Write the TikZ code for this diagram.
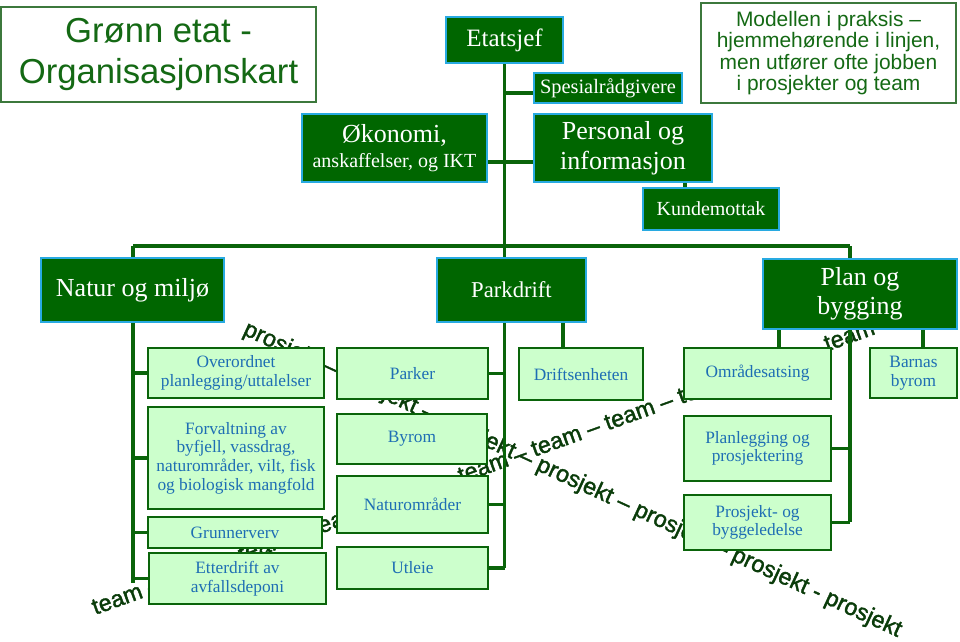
\documentclass[tikz,border=0pt]{standalone}
\usepackage{fontspec}
\setmainfont{Liberation Serif}
\setsansfont{Liberation Sans}
\newfontfamily\diagfont[FakeBold=1.6]{Liberation Sans}
\usetikzlibrary{calc}
\definecolor{dg}{RGB}{0,102,0}
\definecolor{cy}{RGB}{40,170,225}
\definecolor{lg}{RGB}{204,255,204}
\definecolor{lgb}{RGB}{10,100,10}
\definecolor{bl}{RGB}{30,110,180}
\definecolor{tg}{RGB}{20,105,20}
\definecolor{tbord}{RGB}{60,120,60}
\definecolor{lc}{RGB}{10,100,10}
\definecolor{dt}{RGB}{10,60,10}
\pgfdeclarelayer{txt}
\pgfdeclarelayer{lines}
\pgfsetlayers{txt,lines,main}
\newcommand\bxnode[7]{\node[#1,minimum width={(#4-#2)*0.75pt},minimum height={(#5-#3)*0.75pt}] (#6) at ({(#2+#4)/2},{(#3+#5)/2}) {#7};}
\tikzset{
  dbox/.style={draw=cy, fill=dg, line width=1.9pt, text=white, inner sep=0pt, align=center},
  lbox/.style={draw=lgb, fill=lg, line width=2.2pt, text=bl, inner sep=0pt, align=center, font=\fontsize{13pt}{14pt}\selectfont},
  wbox/.style={draw=tbord, fill=white, line width=1.1pt, text=tg, inner sep=0pt, align=center},
  conn/.style={draw=lc, line width=2.3pt},
  diag/.style={text=dt, inner sep=0pt, font=\diagfont\fontsize{17.5pt}{20pt}\selectfont}
}
\begin{document}
\begin{tikzpicture}[x=0.75pt,y=-0.75pt]
\useasboundingbox (0,0) rectangle (960,642);
% boxes
\bxnode{wbox,font=\sffamily\fontsize{26pt}{30.75pt}\selectfont}{1}{7}{316}{102}{title}{Grønn etat -\\Organisasjonskart}
\bxnode{wbox,font=\sffamily\fontsize{15.7pt}{16.1pt}\selectfont}{701}{3}{956}{103}{modell}{Modellen i praksis –\\hjemmehørende i linjen,\\men utfører ofte jobben\\i prosjekter og team}
\bxnode{dbox,font=\fontsize{18.75pt}{22pt}\selectfont}{446}{17}{563}{63}{etatsjef}{Etatsjef}
\bxnode{dbox,font=\fontsize{15.3pt}{18pt}\selectfont}{534}{73}{682}{103}{spesial}{Spesialrådgivere}
\bxnode{dbox,font=\fontsize{19.5pt}{18.75pt}\selectfont}{302}{114}{487}{182}{okonomi}{Økonomi,\\{\fontsize{15pt}{18.75pt}\selectfont anskaffelser, og IKT}}
\bxnode{dbox,font=\fontsize{19.5pt}{22.5pt}\selectfont}{534}{114}{712}{182}{personal}{Personal og\\informasjon}
\bxnode{dbox,font=\fontsize{15pt}{18pt}\selectfont}{643}{188}{779}{230}{kunde}{Kundemottak}
\bxnode{dbox,font=\fontsize{19.5pt}{22pt}\selectfont}{41}{258}{224}{322}{natur}{Natur og miljø}
\bxnode{dbox,font=\fontsize{17pt}{20pt}\selectfont}{437}{258}{586}{322}{parkdrift}{Parkdrift}
\bxnode{dbox,font=\fontsize{19.5pt}{22pt}\selectfont}{763}{259}{957}{329}{plan}{Plan og\\bygging}
\bxnode{lbox}{148}{348}{324}{398}{overordnet}{Overordnet\\planlegging/uttalelser}
\bxnode{lbox}{148}{407}{324}{509}{forvaltning}{Forvaltning av\\byfjell, vassdrag,\\naturområder, vilt, fisk\\og biologisk mangfold}
\bxnode{lbox}{148}{517}{322}{548}{grunn}{Grunnerverv}
\bxnode{lbox}{149}{553}{326}{604}{etter}{Etterdrift av\\avfallsdeponi}
\bxnode{lbox}{337}{348}{488}{399}{parker}{Parker}
\bxnode{lbox}{337}{414}{487}{464}{byrom}{Byrom}
\bxnode{lbox}{337}{476}{488}{533}{naturomr}{Naturområder}
\bxnode{lbox}{337}{547}{488}{589}{utleie}{Utleie}
\bxnode{lbox}{519}{348}{643}{400}{drift}{Driftsenheten}
\bxnode{lbox}{684}{348}{831}{399}{omr}{Områdesatsing}
\bxnode{lbox}{870}{348}{957}{398}{barnas}{Barnas\\byrom}
\bxnode{lbox}{684}{416}{831}{481}{planl}{Planlegging og\\prosjektering}
\bxnode{lbox}{684}{495}{831}{550}{prosj}{Prosjekt- og\\byggeledelse}
% diagonal texts
\begin{pgfonlayer}{txt}
\node[diag, rotate=19.8] (teamtxt) at (483.3,467.4) {team – team – team – team – team – team – team – team – team – team – team};
\node[diag, rotate=-24.8] (prosjtxt) at (572.5,480.3) {prosjekt – prosjekt – prosjekt – prosjekt – prosjekt – prosjekt - prosjekt};
\end{pgfonlayer}
% connectors
\coordinate (barL) at (133,246);
\coordinate (barR) at (850,246);
\coordinate (nmEnd) at (133,583);
\coordinate (pdEnd) at (505,568);
\coordinate (pbEnd) at (850,522);
\coordinate (spy) at (0,93);
\coordinate (oky) at (0,162);
\coordinate (kx) at (685,0);
\coordinate (dx) at (563,0);
\coordinate (ox) at (779,0);
\coordinate (bx) at (923,0);
\begin{pgfonlayer}{lines}
\draw[conn] (etatsjef.south) -- (etatsjef.south |- pdEnd);
\draw[conn] (barL) -- (barR);
\draw[conn] (barL) -- (nmEnd);
\draw[conn] (barR) -- (pbEnd);
\draw[conn] (spesial.west |- spy) -- (etatsjef.south |- spy);
\draw[conn] (okonomi.east |- oky) -- (personal.west |- oky);
\draw[conn] (personal.south -| kx) -- (kunde.north -| kx);
\draw[conn] (overordnet.west) -- (overordnet.west -| barL);
\draw[conn] (forvaltning.west) -- (forvaltning.west -| barL);
\draw[conn] (grunn.west) -- (grunn.west -| barL);
\draw[conn] (etter.west) -- (etter.west -| barL);
\draw[conn] (parker.east) -- (parker.east -| pdEnd);
\draw[conn] (naturomr.east) -- (naturomr.east -| pdEnd);
\draw[conn] (utleie.east) -- (utleie.east -| pdEnd);
\draw[conn] (parkdrift.south -| dx) -- (drift.north -| dx);
\draw[conn] (plan.south -| ox) -- (omr.north -| ox);
\draw[conn] (plan.south -| bx) -- (barnas.north -| bx);
\draw[conn] (planl.east) -- (planl.east -| pbEnd);
\draw[conn] (prosj.east) -- (prosj.east -| pbEnd);
\end{pgfonlayer}
\end{tikzpicture}
\end{document}
